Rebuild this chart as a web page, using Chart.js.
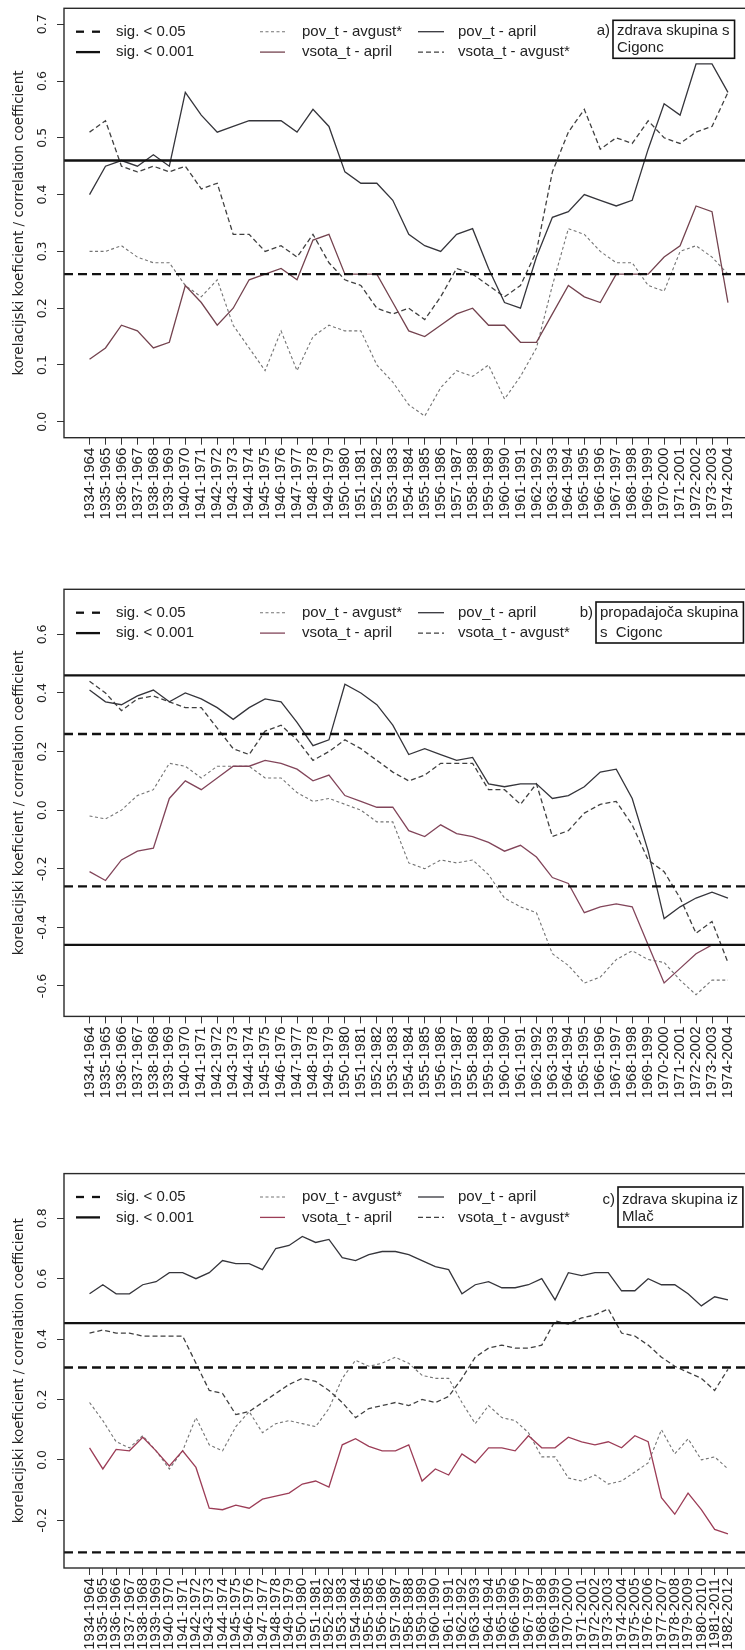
<!DOCTYPE html>
<html><head><meta charset="utf-8">
<script src="https://cdn.jsdelivr.net/npm/chart.js@4.4.1/dist/chart.umd.min.js"></script>
<style>
html,body{margin:0;padding:0;background:#fff;}
body{width:745px;height:1650px;overflow:hidden;position:relative;}
.panel{position:absolute;left:0;}
canvas{display:block;}
</style></head><body>
<div class="panel" style="top:0px"><canvas id="ca" width="770" height="540"></canvas></div>
<div class="panel" style="top:540px"><canvas id="cb" width="770" height="580"></canvas></div>
<div class="panel" style="top:1120px"><canvas id="cc" width="770" height="530"></canvas></div>
<script>
// ---- categories (30-year windows) ----
const periods = ["1934-1964","1935-1965","1936-1966","1937-1967","1938-1968","1939-1969","1940-1970","1941-1971","1942-1972","1943-1973","1944-1974","1945-1975","1946-1976","1947-1977","1948-1978","1949-1979","1950-1980","1951-1981","1952-1982","1953-1983","1954-1984","1955-1985","1956-1986","1957-1987","1958-1988","1959-1989","1960-1990","1961-1991","1962-1992","1963-1993","1964-1994","1965-1995","1966-1996","1967-1997","1968-1998","1969-1999","1970-2000","1971-2001","1972-2002","1973-2003","1974-2004","1975-2005","1976-2006","1977-2007","1978-2008","1979-2009","1980-2010","1981-2011","1982-2012"];
const periodsAB = periods.slice(0, 41);

// ---- panel a: zdrava skupina s Cigonc ----
const povAprA   = [0.40,0.45,0.46,0.45,0.47,0.45,0.58,0.54,0.51,0.52,0.53,0.53,0.53,0.51,0.55,0.52,0.44,0.42,0.42,0.39,0.33,0.31,0.30,0.33,0.34,0.27,0.21,0.20,0.29,0.36,0.37,0.40,0.39,0.38,0.39,0.48,0.56,0.54,0.63,0.63,0.58];
const vsotaAvgA = [0.51,0.53,0.45,0.44,0.45,0.44,0.45,0.41,0.42,0.33,0.33,0.30,0.31,0.29,0.33,0.28,0.25,0.24,0.20,0.19,0.20,0.18,0.22,0.27,0.26,0.24,0.22,0.24,0.30,0.44,0.51,0.55,0.48,0.50,0.49,0.53,0.50,0.49,0.51,0.52,0.58];
const povAvgA   = [0.30,0.30,0.31,0.29,0.28,0.28,0.24,0.22,0.25,0.17,0.13,0.09,0.16,0.09,0.15,0.17,0.16,0.16,0.10,0.07,0.03,0.01,0.06,0.09,0.08,0.10,0.04,0.08,0.13,0.24,0.34,0.33,0.30,0.28,0.28,0.24,0.23,0.30,0.31,0.29,0.26];
const vsotaAprA = [0.11,0.13,0.17,0.16,0.13,0.14,0.24,0.21,0.17,0.20,0.25,0.26,0.27,0.25,0.32,0.33,0.26,0.26,0.26,0.21,0.16,0.15,0.17,0.19,0.20,0.17,0.17,0.14,0.14,0.19,0.24,0.22,0.21,0.26,0.26,0.26,0.29,0.31,0.38,0.37,0.21];
const ticksA = [0.0,0.1,0.2,0.3,0.4,0.5,0.6,0.7];
const sig05A = [0.26];
const sig001A = [0.46];

// ---- panel b: propadajoca skupina s Cigonc ----
const povAprB   = [0.41,0.37,0.36,0.39,0.41,0.37,0.40,0.38,0.35,0.31,0.35,0.38,0.37,0.30,0.22,0.24,0.43,0.40,0.36,0.29,0.19,0.21,0.19,0.17,0.18,0.09,0.08,0.09,0.09,0.04,0.05,0.08,0.13,0.14,0.04,-0.14,-0.37,-0.33,-0.30,-0.28,-0.30];
const vsotaAvgB = [0.44,0.40,0.34,0.38,0.39,0.37,0.35,0.35,0.28,0.21,0.19,0.27,0.29,0.24,0.17,0.20,0.24,0.21,0.17,0.13,0.10,0.12,0.16,0.16,0.16,0.07,0.07,0.02,0.09,-0.09,-0.07,-0.01,0.02,0.03,-0.05,-0.17,-0.21,-0.30,-0.42,-0.38,-0.52];
const povAvgB   = [-0.02,-0.03,0.00,0.05,0.07,0.16,0.15,0.11,0.15,0.15,0.15,0.11,0.11,0.06,0.03,0.04,0.02,0.00,-0.04,-0.04,-0.18,-0.20,-0.17,-0.18,-0.17,-0.22,-0.30,-0.33,-0.35,-0.49,-0.53,-0.59,-0.57,-0.51,-0.48,-0.51,-0.52,-0.58,-0.63,-0.58,-0.58];
const vsotaAprB = [-0.21,-0.24,-0.17,-0.14,-0.13,0.04,0.10,0.07,0.11,0.15,0.15,0.17,0.16,0.14,0.10,0.12,0.05,0.03,0.01,0.01,-0.07,-0.09,-0.05,-0.08,-0.09,-0.11,-0.14,-0.12,-0.16,-0.23,-0.25,-0.35,-0.33,-0.32,-0.33,-0.46,-0.59,-0.54,-0.49,-0.46,-0.46];
const ticksB = [-0.6,-0.4,-0.2,0.0,0.2,0.4,0.6];
const sig05B = [0.26,-0.26];
const sig001B = [0.46,-0.46];

// ---- panel c: zdrava skupina iz Mlac ----
const povAprC   = [0.55,0.58,0.55,0.55,0.58,0.59,0.62,0.62,0.60,0.62,0.66,0.65,0.65,0.63,0.70,0.71,0.74,0.72,0.73,0.67,0.66,0.68,0.69,0.69,0.68,0.66,0.64,0.63,0.55,0.58,0.59,0.57,0.57,0.58,0.60,0.53,0.62,0.61,0.62,0.62,0.56,0.56,0.60,0.58,0.58,0.55,0.51,0.54,0.53];
const vsotaAvgC = [0.42,0.43,0.42,0.42,0.41,0.41,0.41,0.41,0.32,0.23,0.22,0.15,0.16,0.19,0.22,0.25,0.27,0.26,0.23,0.19,0.14,0.17,0.18,0.19,0.18,0.20,0.19,0.21,0.27,0.34,0.37,0.38,0.37,0.37,0.38,0.46,0.45,0.47,0.48,0.50,0.42,0.41,0.38,0.34,0.31,0.29,0.27,0.23,0.30];
const povAvgC   = [0.19,0.13,0.06,0.04,0.08,0.03,-0.03,0.03,0.14,0.05,0.03,0.11,0.16,0.09,0.12,0.13,0.12,0.11,0.17,0.27,0.33,0.31,0.32,0.34,0.32,0.28,0.27,0.27,0.19,0.12,0.18,0.14,0.13,0.09,0.01,0.01,-0.06,-0.07,-0.05,-0.08,-0.07,-0.04,-0.01,0.10,0.02,0.07,0.00,0.01,-0.03];
const vsotaAprC = [0.04,-0.03,0.035,0.03,0.075,0.03,-0.02,0.03,-0.025,-0.16,-0.165,-0.15,-0.16,-0.13,-0.12,-0.11,-0.08,-0.07,-0.09,0.05,0.07,0.045,0.03,0.03,0.05,-0.07,-0.03,-0.05,0.02,-0.01,0.04,0.04,0.03,0.08,0.04,0.04,0.075,0.06,0.05,0.06,0.04,0.08,0.06,-0.125,-0.18,-0.11,-0.165,-0.23,-0.245];
const ticksC = [-0.2,0.0,0.2,0.4,0.6,0.8];
const sig05C = [0.306,-0.306];
const sig001C = [0.453];

const yTitle = "korelacijski koeficient / correlation coefficient";
const legendLabels = ["sig. < 0.05","sig. < 0.001","pov_t - avgust*","vsota_t - april","pov_t - april","vsota_t - avgust*"];

// ---- styles ----
const TXT = '#222';
const STY = {
  povApr:   {color:'#35353b', width:1.3, dash:[]},
  vsotaAvg: {color:'#404040', width:1.3, dash:[5,3]},
  povAvg:   {color:'#747474', width:1.1, dash:[3,2.5]},
  sig05:    {color:'#111', width:2.3, dash:[9,5]},
  sig001:   {color:'#111', width:2.3, dash:[]}
};
Chart.defaults.font.family = '"Liberation Sans", Arial, sans-serif';

function makePanel(id, o) {
  const n = o.cats.length;
  const pad = 0.04 * (n - 1);
  const xmin = -pad, xmax = n - 1 + pad;
  const H = document.getElementById(id).height;
  const pts = arr => arr.map((v, i) => ({x: i, y: v}));
  const hline = (v, s) => ({data: [{x: xmin, y: v}, {x: xmax, y: v}], borderColor: s.color, borderWidth: s.width, borderDash: s.dash, pointRadius: 0, fill: false, tension: 0});
  const series = (arr, s) => ({data: pts(arr), borderColor: s.color, borderWidth: s.width, borderDash: s.dash, pointRadius: 0, fill: false, tension: 0});
  const vsAprSty = {color: o.vsotaColor, width: 1.3, dash: []};
  const datasets = [];
  o.sig001.forEach(v => datasets.push(hline(v, STY.sig001)));
  o.sig05.forEach(v => datasets.push(hline(v, STY.sig05)));
  datasets.push(series(o.povApr, STY.povApr));
  datasets.push(series(o.vsotaApr, vsAprSty));
  datasets.push(series(o.vsotaAvg, STY.vsotaAvg));
  datasets.push(series(o.povAvg, STY.povAvg));

  const deco = {
    id: 'deco_' + id,
    afterDraw(chart) {
      const ctx = chart.ctx, ca = chart.chartArea, ys = chart.scales.y;
      ctx.save();
      ctx.setLineDash([]);
      ctx.strokeStyle = '#2a2a2a'; ctx.lineWidth = 1.4;
      ctx.strokeRect(ca.left, ca.top, ca.right - ca.left, ca.bottom - ca.top);
      // y tick labels (rotated)
      ctx.fillStyle = TXT;
      ctx.font = '12.5px "DejaVu Sans", sans-serif';
      ctx.textAlign = 'center'; ctx.textBaseline = 'middle';
      o.yTicks.forEach(v => {
        const y = ys.getPixelForValue(v);
        ctx.save(); ctx.translate(43, y); ctx.rotate(-Math.PI / 2);
        ctx.fillText(v.toFixed(1), 0, 0); ctx.restore();
      });
      // y title
      ctx.font = '13.5px "DejaVu Sans", sans-serif';
      ctx.save(); ctx.translate(19, (ca.top + ca.bottom) / 2); ctx.rotate(-Math.PI / 2);
      ctx.fillText(yTitle, 0, 0); ctx.restore();
      // legend
      const r1 = ca.top + 23.4, r2 = ca.top + 43.8;
      const items = [
        [76, 100, 116, r1, legendLabels[0], {color:'#111', width:2.3, dash:[8,8]}],
        [76, 100, 116, r2, legendLabels[1], STY.sig001],
        [260, 285, 302, r1, legendLabels[2], STY.povAvg],
        [260, 285, 302, r2, legendLabels[3], vsAprSty],
        [418, 444, 458, r1, legendLabels[4], STY.povApr],
        [418, 444, 458, r2, legendLabels[5], STY.vsotaAvg]
      ];
      ctx.font = '15px "Liberation Sans", Arial, sans-serif';
      ctx.textAlign = 'left';
      items.forEach(([x1, x2, tx, y, t, s]) => {
        ctx.beginPath(); ctx.strokeStyle = s.color; ctx.lineWidth = s.width; ctx.setLineDash(s.dash);
        ctx.moveTo(x1, y); ctx.lineTo(x2, y); ctx.stroke();
        ctx.fillStyle = TXT; ctx.fillText(t, tx, y);
      });
      ctx.setLineDash([]);
      // panel title with box
      const tb = o.title;
      ctx.textAlign = 'right';
      ctx.fillText(tb.tag, tb.left - 3, ca.top + tb.rows[0]);
      ctx.textAlign = 'left';
      let w = 0;
      tb.lines.forEach(l => { w = Math.max(w, ctx.measureText(l).width); });
      tb.lines.forEach((l, i) => ctx.fillText(l, tb.left + 4, ca.top + tb.rows[i]));
      ctx.strokeStyle = '#111'; ctx.lineWidth = 1.6;
      ctx.strokeRect(tb.left, ca.top + tb.top, w + 9, tb.bottom - tb.top);
      ctx.restore();
    }
  };

  return new Chart(document.getElementById(id), {
    type: 'line',
    data: {datasets},
    options: {
      responsive: false, animation: false, events: [],
      layout: {padding: {top: o.frameTop, left: 0, right: 16.5, bottom: 0}},
      plugins: {legend: {display: false}, tooltip: {enabled: false}},
      scales: {
        x: {
          type: 'linear', min: xmin, max: xmax,
          afterBuildTicks: s => { s.ticks = o.cats.map((c, i) => ({value: i})); },
          afterFit: s => { s.height = H - o.frameBottom; },
          ticks: {autoSkip: false, minRotation: 90, maxRotation: 90, padding: 3, color: TXT,
                  font: {family: '"Liberation Sans", Arial, sans-serif', size: 15},
                  callback: v => o.cats[v]},
          grid: {drawOnChartArea: false, drawTicks: true, tickLength: 7, color: '#333', lineWidth: 1},
          border: {display: false}
        },
        y: {
          type: 'linear', min: o.yMin, max: o.yMax,
          afterBuildTicks: s => { s.ticks = o.yTicks.map(v => ({value: v})); },
          afterFit: s => { s.width = 64; },
          ticks: {display: false},
          grid: {drawOnChartArea: false, drawTicks: true, tickLength: 7, color: '#333', lineWidth: 1},
          border: {display: false}
        }
      }
    },
    plugins: [deco]
  });
}

makePanel('ca', {
  cats: periodsAB, povApr: povAprA, vsotaApr: vsotaAprA, vsotaAvg: vsotaAvgA, povAvg: povAvgA,
  yMin: -0.028, yMax: 0.728, yTicks: ticksA, sig05: sig05A, sig001: sig001A,
  frameTop: 8.3, frameBottom: 437.7, vsotaColor: '#74434f',
  title: {tag: 'a)', lines: ['zdrava skupina s', 'Cigonc'], left: 613, top: 12, bottom: 50, rows: [22.5, 39.5]}
});
makePanel('cb', {
  cats: periodsAB, povApr: povAprB, vsotaApr: vsotaAprB, vsotaAvg: vsotaAvgB, povAvg: povAvgB,
  yMin: -0.704, yMax: 0.754, yTicks: ticksB, sig05: sig05B, sig001: sig001B,
  frameTop: 49.3, frameBottom: 476.4, vsotaColor: '#82455a',
  title: {tag: 'b)', lines: ['propadajoča skupina', 's  Cigonc'], left: 596, top: 12.7, bottom: 53.7, rows: [23.4, 43.8]}
});
makePanel('cc', {
  cats: periods, povApr: povAprC, vsotaApr: vsotaAprC, vsotaAvg: vsotaAvgC, povAvg: povAvgC,
  yMin: -0.358, yMax: 0.948, yTicks: ticksC, sig05: sig05C, sig001: sig001C,
  frameTop: 53.6, frameBottom: 448, vsotaColor: '#9c3d57',
  title: {tag: 'c)', lines: ['zdrava skupina iz', 'Mlač'], left: 618, top: 13.4, bottom: 53.4, rows: [26, 43.5]}
});
</script>
</body></html>
